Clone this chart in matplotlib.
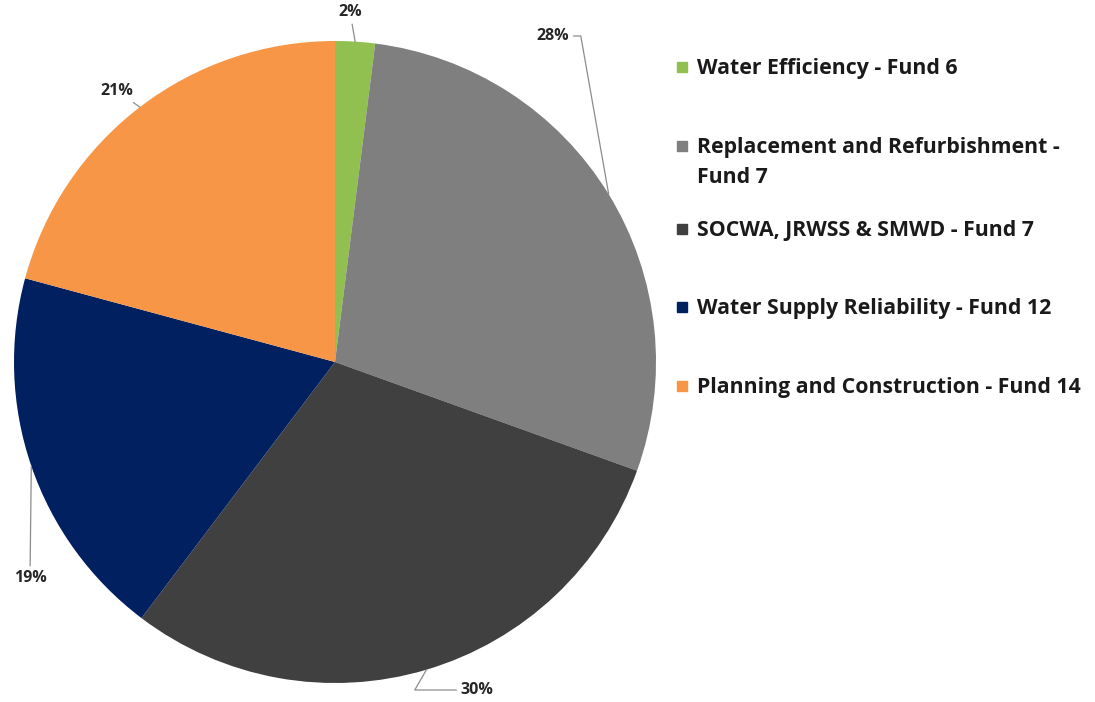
import matplotlib.pyplot as plt
from matplotlib.patches import Rectangle
import numpy as np

W, H = 1095, 702

labels = [
    "Water Efficiency - Fund 6",
    "Replacement and Refurbishment -\nFund 7",
    "SOCWA, JRWSS & SMWD - Fund 7",
    "Water Supply Reliability - Fund 12",
    "Planning and Construction - Fund 14",
]
values = [2.0, 28.5, 29.8, 18.9, 20.8]
pct_text = ["2%", "28%", "30%", "19%", "21%"]
colors = ["#92c050", "#7f7f7f", "#404040", "#002060", "#f79646"]

# pie centre / radius in pixels
cx, cy, R = 335, 362, 321


def px2d(px, py):
    return (px - cx) / R, (cy - py) / R


# label positions (pixels) and leader connection styles
label_pos = [(350, 12), (553, 36), (477, 690), (30, 578), (117, 91)]
conn = ["arc3", "angle,angleA=0,angleB=100", "angle,angleA=0,angleB=60", "arc3", "arc3"]

plt.rcParams["font.family"] = ["Open Sans", "DejaVu Sans"]
fig = plt.figure(figsize=(W / 100, H / 100), dpi=100)
ax = fig.add_axes([0, 0, 1, 1])

wedges, _ = ax.pie(values, colors=colors, startangle=90, counterclock=False,
                   radius=1.0, wedgeprops=dict(linewidth=0))

x0, y1 = px2d(0, 0)
x1, y0 = px2d(W, H)
ax.set_xlim(x0, x1)
ax.set_ylim(y0, y1)
ax.set_aspect("equal", adjustable="box")
ax.axis("off")

for w, txt, pos, cs in zip(wedges, pct_text, label_pos, conn):
    mid = np.deg2rad((w.theta1 + w.theta2) / 2)
    edge = (np.cos(mid), np.sin(mid))
    ax.annotate(txt, xy=edge, xytext=px2d(*pos), ha="center", va="center",
                fontsize=11.5, fontweight="bold", color="#262626",
                arrowprops=dict(arrowstyle="-", color="#8c8c8c", lw=0.9,
                                shrinkA=1, shrinkB=0, connectionstyle=cs),
                annotation_clip=False)

# legend
rows = [67, 146, 229, 307, 386]
for lab, col, ry in zip(labels, colors, rows):
    fig.patches.append(Rectangle((677 / W, 1 - (ry + 5) / H), 10 / W, 10 / H,
                                 transform=fig.transFigure, color=col))
    fig.text(697 / W, 1 - (ry - 9) / H, lab, ha="left", va="top",
             fontsize=15.3, fontweight="bold", color="#1a1a1a", linespacing=1.55)

fig.savefig("out.png", dpi=100)
